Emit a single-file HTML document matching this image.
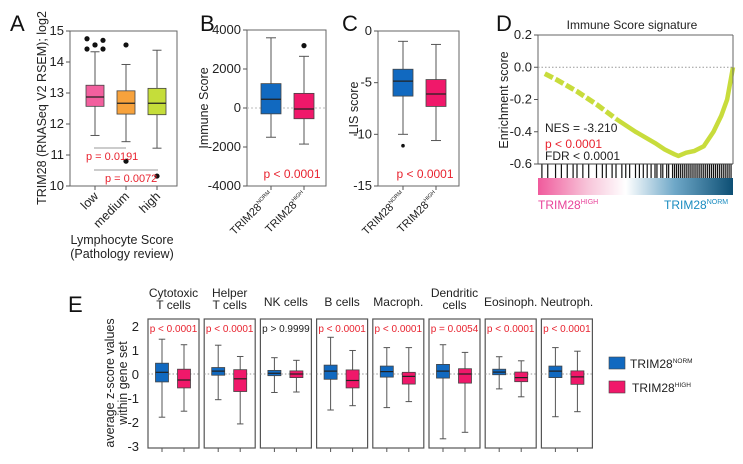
<!DOCTYPE html>
<html><head><meta charset="utf-8"><style>
body{margin:0;background:#fff}
svg{display:block;font-family:"Liberation Sans",sans-serif}
</style></head><body>
<svg id="s" width="743" height="464" viewBox="0 0 743 464"></svg>
<script>
// ---- Panel A data ----
const aCats=["low","medium","high"];
const aQ1=[12.57,12.32,12.30], aMed=[12.87,12.67,12.67], aQ3=[13.25,13.07,13.15];
const aLo=[11.63,11.43,11.22], aHi=[14.33,13.92,14.38];
const aOut=[[14.75,14.42,14.55,14.42,14.70,14.55],[14.55,10.80],[10.32]];
const aTicks=[10,11,12,13,14,15];
// ---- Panel B data ----
const bQ1=[-300,-550], bMed=[450,-50], bQ3=[1250,750], bLo=[-1500,-1850], bHi=[3600,2650];
const bOut=[[],[3200]];
const bTicks=[-4000,-2000,0,2000,4000];
// ---- Panel C data ----
const cQ1=[-6.3,-7.3], cMed=[-4.85,-6.1], cQ3=[-3.7,-4.7], cLo=[-10,-10.6], cHi=[-1.0,-1.3];
const cOut=[[-11.1],[]];
const cTicks=[-15,-10,-5,0];
// ---- Panel D data ----
const esRank=[0.035,0.1,0.2,0.3,0.4,0.5,0.6,0.65,0.7,0.72,0.76,0.8,0.85,0.9,0.94,0.97,1.0];
const esVal=[-0.04,-0.08,-0.15,-0.23,-0.32,-0.40,-0.47,-0.51,-0.54,-0.55,-0.53,-0.52,-0.49,-0.40,-0.30,-0.20,0.0];
const dTicks=[-0.6,-0.4,-0.2,0.0,0.2];
const hits=[0.02,0.05,0.09,0.12,0.15,0.18,0.2,0.23,0.26,0.3,0.33,0.35,0.38,0.4,0.43,0.45,0.47,0.5,0.52,0.54,0.56,0.58,0.6,0.61,0.63,0.64,0.66,0.67,0.69,0.7,0.71,0.72,0.73,0.74,0.75,0.76,0.77,0.78,0.79,0.8,0.81,0.82,0.83,0.84,0.85,0.86,0.87,0.88,0.89,0.9,0.91,0.92,0.93,0.94,0.95,0.96,0.97,0.98,0.99];
// ---- Panel E data ----
const eCats=[["Cytotoxic","T cells"],["Helper","T cells"],["NK cells"],["B cells"],["Macroph."],["Dendritic","cells"],["Eosinoph."],["Neutroph."]];
const eP=["p < 0.0001","p < 0.0001","p > 0.9999","p < 0.0001","p < 0.0001","p = 0.0054","p < 0.0001","p < 0.0001"];
const eNQ1=[-0.33,-0.05,-0.07,-0.22,-0.13,-0.17,-0.03,-0.15], eNMed=[0.07,0.12,0.03,0.12,0.10,0.12,0.08,0.12], eNQ3=[0.45,0.27,0.15,0.37,0.33,0.40,0.20,0.33];
const eNLo=[-1.8,-1.07,-0.77,-1.5,-1.4,-2.7,-0.62,-1.78], eNHi=[1.45,1.2,0.68,1.53,1.1,1.22,0.72,1.1];
const eHQ1=[-0.58,-0.73,-0.15,-0.58,-0.42,-0.38,-0.32,-0.43], eHMed=[-0.25,-0.2,0.0,-0.27,-0.1,0.0,-0.15,-0.12], eHQ3=[0.2,0.18,0.13,0.17,0.07,0.22,0.08,0.13];
const eHLo=[-1.55,-2.08,-0.75,-1.32,-1.15,-2.43,-0.95,-1.57], eHHi=[1.22,0.73,0.57,0.98,1.1,0.9,0.55,0.95];
const eTicks=[-3,-2,-1,0,1,2];

const S=document.getElementById('s'), NS="http://www.w3.org/2000/svg";
function mk(t,a,p){const e=document.createElementNS(NS,t);for(const k in a)e.setAttribute(k,a[k]);(p||S).appendChild(e);return e;}
function txt(x,y,s,a,p){const e=mk('text',Object.assign({x:x,y:y},a),p);e.textContent=s;return e;}
function lin(d0,d1,r0,r1){return v=>r0+(v-d0)*(r1-r0)/(d1-d0);}
const RED="#e8232f", BLUE="#1169c0", PINK="#f0186a";

function box(g,cx,w,y,q1,med,q3,lo,hi,fill){
  const wl=mk('line',{x1:cx,x2:cx,y1:y(hi),y2:y(lo),stroke:'#555','stroke-width':1},g);
  
  
  mk('line',{x1:cx-w/4,x2:cx+w/4,y1:y(hi),y2:y(hi),stroke:'#555'},g);
  mk('line',{x1:cx-w/4,x2:cx+w/4,y1:y(lo),y2:y(lo),stroke:'#555'},g);
  const r=mk('rect',{x:cx-w/2,y:y(q3),width:w,height:y(q1)-y(q3),fill:fill,stroke:'#444','stroke-width':0.8},g);
  
  
  mk('line',{x1:cx-w/2,x2:cx+w/2,y1:y(med),y2:y(med),stroke:'#222','stroke-width':1.2},g);
}
function yaxis(x,y,ticks,fmt,fs){ticks.forEach(t=>{mk('line',{x1:x-4,x2:x,y1:y(t),y2:y(t),stroke:'#555'});txt(x-6,y(t)+4,fmt(t),{'text-anchor':'end','font-size':fs||13,fill:'#222'});});}
function trimLabel(x,y,sup){const t=mk('text',{x:x,y:y,'text-anchor':'end','font-size':11,transform:`rotate(-45 ${x} ${y})`,fill:'#222'});
  
  
  const a=mk('tspan',{},t);a.textContent='TRIM28';const b=mk('tspan',{'font-size':5.5,dy:-5},t);b.textContent=sup;}

// ===== Panel A =====
{const y=lin(10,15,186,31);const g=mk('g',{});
 
 
 txt(10,31,'A',{'font-size':22,fill:'#111'});
 mk('rect',{x:70,y:31,width:107,height:155,fill:'none',stroke:'#666'},g);
 yaxis(70,y,aTicks,String,13);
 const fills=["#f2609e","#f7a23c","#c5dd3a"], xs=[95,126,157];
 aCats.forEach((c,i)=>{box(g,xs[i],18,y,aQ1[i],aMed[i],aQ3[i],aLo[i],aHi[i],fills[i]);
  aOut[i].forEach((o,j)=>{const dx=i==0?[-8,-8,0,8,8,0][j]:0;const d=mk('circle',{cx:xs[i]+dx,cy:y(o),r:2.6,fill:'#111'},g);
   
   });
  mk('line',{x1:xs[i],x2:xs[i],y1:186,y2:190,stroke:'#555'});
  const t=txt(xs[i]+4,197,c,{'text-anchor':'end','font-size':12.5,transform:`rotate(-45 ${xs[i]+4} 197)`,fill:'#222'});
  
  });
 mk('line',{x1:94,x2:126,y1:148,y2:148,stroke:'#999'});txt(86,160,'p = 0.0191',{'font-size':11,fill:RED});
 mk('line',{x1:94,x2:158,y1:170,y2:170,stroke:'#999'});txt(105,182,'p = 0.0072',{'font-size':11,fill:RED});
 const yl=txt(46,108,'TRIM28 (RNASeq V2 RSEM); log2',{'text-anchor':'middle','font-size':12.5,transform:'rotate(-90 46 108)',fill:'#222'});
 
 
 txt(122,244,'Lymphocyte Score',{'text-anchor':'middle','font-size':12.5,fill:'#222'});
 txt(122,258,'(Pathology review)',{'text-anchor':'middle','font-size':12.5,fill:'#222'});}

// ===== Panel B =====
{const y=lin(-4000,4000,186,30);const g=mk('g',{});
 
 
 txt(200,31,'B',{'font-size':22,fill:'#111'});
 mk('rect',{x:247,y:30,width:79,height:156,fill:'none',stroke:'#666'},g);
 mk('line',{x1:247,x2:326,y1:y(0),y2:y(0),stroke:'#bbb','stroke-dasharray':'2,2'},g);
 yaxis(247,y,bTicks,String,13);
 const xs=[271,304],f=[BLUE,PINK],sup=['NORM','HIGH'];
 xs.forEach((cx,i)=>{box(g,cx,20,y,bQ1[i],bMed[i],bQ3[i],bLo[i],bHi[i],f[i]);
  bOut[i].forEach(o=>mk('circle',{cx:cx,cy:y(o),r:2.6,fill:'#111'},g));
  mk('line',{x1:cx,x2:cx,y1:186,y2:190,stroke:'#555'});trimLabel(cx+3,196,sup[i]);});
 txt(292,178,'p < 0.0001',{'text-anchor':'middle','font-size':12,fill:RED});
 txt(208,108,'Immune Score',{'text-anchor':'middle','font-size':12.5,transform:'rotate(-90 208 108)',fill:'#222'});}

// ===== Panel C =====
{const y=lin(-15,0,186,31);const g=mk('g',{});
 
 
 txt(342,31,'C',{'font-size':22,fill:'#111'});
 mk('rect',{x:378,y:31,width:81,height:155,fill:'none',stroke:'#666'},g);
 yaxis(378,y,cTicks,String,13);
 const xs=[403,436],f=[BLUE,PINK],sup=['NORM','HIGH'];
 xs.forEach((cx,i)=>{box(g,cx,20,y,cQ1[i],cMed[i],cQ3[i],cLo[i],cHi[i],f[i]);
  cOut[i].forEach(o=>mk('circle',{cx:cx,cy:y(o),r:1.8,fill:'#111'},g));
  mk('line',{x1:cx,x2:cx,y1:186,y2:190,stroke:'#555'});trimLabel(cx+3,196,sup[i]);});
 txt(425,178,'p < 0.0001',{'text-anchor':'middle','font-size':12,fill:RED});
 txt(358,108,'LIS score',{'text-anchor':'middle','font-size':12.5,transform:'rotate(-90 358 108)',fill:'#222'});}

// ===== Panel D =====
{const L=538,R=733;const y=lin(-0.6,0.2,164,35);const x=lin(0,1,L,R);const g=mk('g',{});
 
 
 txt(496,31,'D',{'font-size':22,fill:'#111'});
 txt(632,29,'Immune Score signature',{'text-anchor':'middle','font-size':12,fill:'#222'});
 mk('line',{x1:L,x2:L,y1:35,y2:164,stroke:'#666'});mk('line',{x1:R,x2:R,y1:35,y2:164,stroke:'#666'});
 mk('line',{x1:L,x2:R,y1:35,y2:35,stroke:'#666'});mk('line',{x1:L,x2:R,y1:164,y2:164,stroke:'#444'});
 mk('line',{x1:L,x2:R,y1:y(0),y2:y(0),stroke:'#999','stroke-dasharray':'1.5,2'});
 yaxis(L,y,dTicks,t=>t.toFixed(1),13);
 const d=mk('defs',{});const lg=mk('linearGradient',{id:'gr',x1:0,x2:1,y1:0,y2:0},d);
 [['0','#f05a9c'],['0.25','#f7c3d8'],['0.45','#ffffff'],['0.7','#6fa8c8'],['1','#0d4f74']].forEach(s=>mk('stop',{offset:s[0],'stop-color':s[1]},lg));
 const st=mk('rect',{x:L,y:178,width:R-L,height:17,fill:'url(#gr)'});
 
 
 hits.forEach(h=>{const l=mk('line',{x1:x(h),x2:x(h),y1:164,y2:178,stroke:'#111','stroke-width':1.2},g);
  
  });
 const pts=esRank.map((r,i)=>x(r)+','+y(esVal[i]));
 const p1=mk('polyline',{points:pts.slice(0,5).join(' '),fill:'none',stroke:'#c8dc3c','stroke-width':5,'stroke-dasharray':'9,3'},g);
 
 
 const p2=mk('polyline',{points:pts.slice(4).join(' '),fill:'none',stroke:'#c8dc3c','stroke-width':4.5,'stroke-linejoin':'round'},g);
 
 
 txt(545,132,'NES = -3.210',{'font-size':12,fill:'#222'});txt(545,148,'p < 0.0001',{'font-size':12,fill:RED});txt(545,160,'FDR < 0.0001',{'font-size':12,fill:'#222'});
 txt(508,100,'Enrichment score',{'text-anchor':'middle','font-size':12.5,transform:'rotate(-90 508 100)',fill:'#222'});
 const a=txt(538,209,'TRIM28',{'font-size':12,fill:'#e8449a'});const s1=mk('tspan',{'font-size':7,dy:-5},a);s1.textContent='HIGH';
 const b=txt(664,209,'TRIM28',{'font-size':12,fill:'#1a8cc0'});const s0=mk('tspan',{'font-size':7,dy:-5},b);s0.textContent='NORM';}

// ===== Panel E =====
{const y=lin(-3,2,446,326);const top=319,bot=448,pw=51,step=56.2,x0=148;
 txt(68,312,'E',{'font-size':22,fill:'#111'});
 eTicks.forEach(t=>txt(139,y(t)+5,String(t),{'text-anchor':'end','font-size':13,fill:'#222'}));
 const t1=txt(114,383,'average z-score values',{'text-anchor':'middle','font-size':12.5,transform:'rotate(-90 114 383)',fill:'#222'});
 
 
 txt(127,383,'within gene set',{'text-anchor':'middle','font-size':12.5,transform:'rotate(-90 127 383)',fill:'#222'});
 eCats.forEach((c,i)=>{const l=x0+i*step;const g=mk('g',{});
  
  
  mk('rect',{x:l,y:top,width:pw,height:bot-top,fill:'none',stroke:'#555','stroke-width':1.2},g);
  mk('line',{x1:l,x2:l+pw,y1:y(0),y2:y(0),stroke:'#999','stroke-dasharray':'1.5,2'},g);
  const cx1=l+14,cx2=l+36;
  box(g,cx1,13,y,eNQ1[i],eNMed[i],eNQ3[i],eNLo[i],eNHi[i],BLUE);
  box(g,cx2,13,y,eHQ1[i],eHMed[i],eHQ3[i],eHLo[i],eHHi[i],PINK);
  mk('line',{x1:cx1,x2:cx1,y1:bot,y2:bot+4,stroke:'#555'},g);mk('line',{x1:cx2,x2:cx2,y1:bot,y2:bot+4,stroke:'#555'},g);
  txt(l+pw/2,332,eP[i],{'text-anchor':'middle','font-size':10,fill:eP[i].indexOf('>')>=0?'#222':RED},g);
  if(c.length==2){txt(l+pw/2,297,c[0],{'text-anchor':'middle','font-size':12,fill:'#222'},g);txt(l+pw/2,309,c[1],{'text-anchor':'middle','font-size':12,fill:'#222'},g);}
  else txt(l+pw/2,306,c[0],{'text-anchor':'middle','font-size':12,fill:'#222'},g);});
 const lg=mk('g',{});
 
 
 mk('rect',{x:609,y:357,width:16,height:12,fill:BLUE,stroke:'#444','stroke-width':0.6},lg);
 const a1=txt(630,368,'TRIM28',{'font-size':12,fill:'#222'},lg);const u1=mk('tspan',{'font-size':6.5,dy:-5},a1);u1.textContent='NORM';
 mk('rect',{x:609,y:381,width:16,height:12,fill:PINK,stroke:'#444','stroke-width':0.6},lg);
 const a2=txt(632,392,'TRIM28',{'font-size':12,fill:'#222'},lg);const u2=mk('tspan',{'font-size':6.5,dy:-5},a2);u2.textContent='HIGH';}
</script>
</body></html>
